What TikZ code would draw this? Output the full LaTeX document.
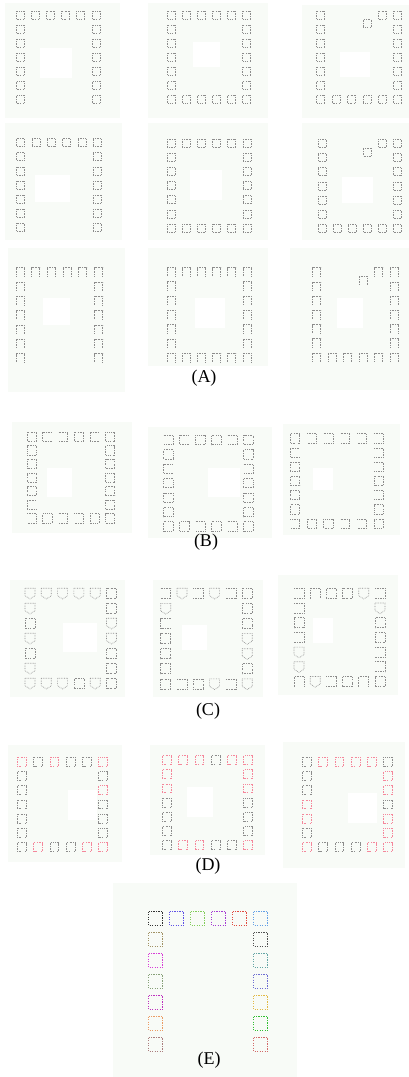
\documentclass[tikz,border=0pt]{standalone}
\usepackage{fontspec}
\setmainfont{Liberation Serif}

\definecolor{gr}{RGB}{140,140,140}
\definecolor{pk}{RGB}{245,135,155}
\definecolor{panelbg}{RGB}{248,251,247}
% colores del panel (E)
\definecolor{topblack}{RGB}{50,50,50}
\definecolor{topblue}{RGB}{95,80,230}
\definecolor{topgreen}{RGB}{130,205,90}
\definecolor{toppurple}{RGB}{165,60,210}
\definecolor{topred}{RGB}{225,75,65}
\definecolor{topsky}{RGB}{100,160,230}
\definecolor{leftolive}{RGB}{160,145,100}
\definecolor{leftmagenta}{RGB}{215,60,215}
\definecolor{leftsage}{RGB}{135,160,120}
\definecolor{leftviolet}{RGB}{190,50,190}
\definecolor{leftorange}{RGB}{235,155,100}
\definecolor{leftrose}{RGB}{170,125,125}
\definecolor{rightgray}{RGB}{80,80,80}
\definecolor{rightteal}{RGB}{100,165,165}
\definecolor{rightslate}{RGB}{110,110,210}
\definecolor{rightgold}{RGB}{225,185,70}
\definecolor{rightgreen}{RGB}{50,190,50}
\definecolor{rightpink}{RGB}{210,105,105}

\tikzset{
  glyph/.style={densely dotted, line width=0.65pt},
  gl/.pic={\draw[glyph] (-2.6,-4) -- (-4,-4) -- (-4,4) -- (0,4);
           \draw[glyph] (-0.8,-4) -- (4,-4) -- (4,4) -- (2.2,4);},
  sq/.pic={\draw[glyph] (-4,-4) rectangle (4,4);},
  cp/.pic={\draw[glyph] (-4,4.5) -- (-4,-4) -- (4,-4) -- (4,4.5);},
  br/.pic={\draw[glyph] (-4,-4) -- (4,-4) -- (4,4) -- (-4,4);},
  sh/.pic={\draw[glyph] (-4,-4) -- (4,-4) -- (4,2) -- (0,4.5) -- (-4,2) -- cycle;},
  none/.pic={}
}

% marco de celdas: #1,#2 primera celda, #3,#4 pasos, #5 tipo, #6 variante
\newcommand{\apanel}[6]{%
  \ifnum#6=2 \def\toplist{0,4,5}\else\def\toplist{0,1,2,3,4,5}\fi
  \ifnum#6=0 \def\botlist{0,5}\else\def\botlist{0,1,2,3,4,5}\fi
  \foreach \i in \toplist {\pic at ({#1+\i*#3},{#2}) {#5};}
  \foreach \j in {1,...,5} {\pic at ({#1},{#2+\j*#4}) {#5};
    \pic at ({#1+5*#3},{#2+\j*#4}) {#5};}
  \foreach \i in \botlist {\pic at ({#1+\i*#3},{#2+6*#4}) {#5};}
  \ifnum#6=2 \pic at ({#1+3*#3},{#2+0.6*#4}) {#5};\fi
}

% anillo con tipo/angulo/color por celda: #5 escala, #6 lista
\newcommand{\ringpanel}[6]{%
  \foreach \t/\a/\col [count=\k from 0] in {#6} {
    \pgfmathsetmacro\cc{{0,1,2,3,4,5,0,5,0,5,0,5,0,5,0,5,0,1,2,3,4,5}[\k]}
    \pgfmathsetmacro\rr{{0,0,0,0,0,0,1,1,2,2,3,3,4,4,5,5,6,6,6,6,6,6}[\k]}
    \pic[rotate=\a, scale=#5, color=\col] at ({#1+\cc*#3},{#2+\rr*#4}) {\t};
  }%
}

\begin{document}
\begin{tikzpicture}[x=1pt, y=-1pt, lab/.style={font=\fontsize{18}{20}\selectfont, inner sep=0pt}]
  \useasboundingbox (0,0) rectangle (409,1077);
  \fill[white] (0,0) rectangle (409,1077);

  % Fondos de los paneles
  \foreach \xa/\ya/\xb/\yb in {5/3/120/118, 148/3/268/118, 302/5/409/118,
      5/123/122/240, 148/123/268/240, 302/123/409/240,
      8/248/125/392, 148/248/268/366, 290/248/409/390,
      12/422/132/533, 148/427/272/538, 283/424/400/535,
      10/580/125/697, 153/580/263/697, 278/575/398/695,
      8/745/122/862, 150/745/265/855, 283/742/405/868,
      113/883/297/1077}
    \fill[panelbg] (\xa,\ya) rectangle (\xb,\yb);

  % Huecos blancos del centro
  \foreach \xa/\ya/\xb/\yb in {40/48/72/78, 193/42/220/67, 340/52/370/77,
      35/175/70/202, 190/170/222/200, 342/177/373/203,
      43/298/70/325, 195/298/225/328, 337/298/363/328,
      47/468/72/497, 208/468/240/497, 313/468/333/490,
      63/623/97/652, 182/625/207/650, 313/618/333/643,
      68/790/97/820, 187/787/213/817, 348/793/377/823}
    \fill[white] (\xa,\ya) rectangle (\xb,\yb);

  % (A): tres familias de glifos
  \begin{scope}[color=gr]
    \apanel{20}{15}{15.2}{14.05}{gl}{0}
    \apanel{171.7}{15}{15}{14.05}{gl}{1}
    \apanel{320.7}{15}{15.4}{14.05}{gl}{2}
    \apanel{20.7}{142.7}{15.3}{14.1}{sq}{0}
    \apanel{171}{143}{15.2}{14.2}{sq}{1}
    \apanel{322.3}{143.3}{15}{14.2}{sq}{2}
    \apanel{20}{271.7}{15.7}{14.3}{cp}{0}
    \apanel{171}{271.5}{15.2}{14.3}{cp}{1}
    \apanel{316.7}{271.7}{15.5}{14.2}{cp}{2}
  \end{scope}
  \node[lab] (labA) at (204,378) {(A)};

  % (B)
  \ringpanel{31.7}{436.7}{15.7}{13.6}{1.15}{gl/0/gr, br/180/gr, br/0/gr, gl/0/gr, br/180/gr, gl/0/gr,
    gl/90/gr, gl/0/gr, gl/0/gr, gl/90/gr, gl/270/gr, gl/0/gr, gl/90/gr, gl/270/gr, br/180/gr, gl/90/gr,
    br/0/gr, gl/180/gr, br/0/gr, br/0/gr, gl/180/gr, gl/90/gr}
  \ringpanel{168.3}{440}{16}{14.4}{1.15}{br/0/gr, br/180/gr, gl/0/gr, gl/180/gr, br/0/gr, gl/90/gr,
    gl/270/gr, gl/0/gr, br/180/gr, br/0/gr, gl/270/gr, gl/270/gr, gl/90/gr, gl/90/gr, gl/180/gr, gl/180/gr,
    gl/180/gr, gl/0/gr, br/0/gr, gl/180/gr, br/0/gr, gl/180/gr}
  \ringpanel{295}{438.3}{16.7}{14.2}{1.15}{gl/0/gr, br/0/gr, br/0/gr, br/0/gr, br/0/gr, br/0/gr,
    br/180/gr, br/0/gr, gl/90/gr, br/0/gr, gl/270/gr, gl/0/gr, gl/90/gr, br/0/gr, gl/180/gr, gl/90/gr,
    br/0/gr, gl/0/gr, gl/0/gr, br/0/gr, br/0/gr, gl/180/gr}
  \node[lab] (labB) at (206,542) {(B)};

  % (C)
  \ringpanel{30}{593.3}{16.3}{15}{1.25}{sh/0/gr, sh/0/gr, sh/0/gr, sh/0/gr, sh/0/gr, gl/0/gr,
    sh/0/gr, gl/0/gr, gl/0/gr, sh/0/gr, sh/0/gr, sh/0/gr, gl/0/gr, gl/90/gr, sh/0/gr, gl/0/gr,
    sh/0/gr, sh/0/gr, sh/0/gr, gl/90/gr, sh/0/gr, gl/0/gr}
  \ringpanel{165.7}{593.3}{16.3}{15.1}{1.25}{br/0/gr, sh/0/gr, br/0/gr, sh/0/gr, br/0/gr, gl/0/gr,
    sh/0/gr, gl/0/gr, br/180/gr, gl/90/gr, gl/0/gr, sh/0/gr, gl/90/gr, sh/0/gr, gl/0/gr, gl/90/gr,
    gl/0/gr, br/0/gr, gl/90/gr, sh/0/gr, br/0/gr, sh/0/gr}
  \ringpanel{299}{593.3}{16.2}{14.7}{1.25}{br/0/gr, cp/0/gr, gl/90/gr, gl/0/gr, sh/0/gr, br/0/gr,
    br/0/gr, sh/0/gr, gl/0/gr, gl/90/gr, br/0/gr, gl/0/gr, sh/0/gr, br/0/gr, sh/0/gr, br/0/gr,
    cp/0/gr, sh/0/gr, br/0/gr, gl/90/gr, cp/0/gr, gl/0/gr}
  \node[lab] (labC) at (208,711) {(C)};

  % (D): mismos glifos, gris y rosa
  \ringpanel{21.7}{761.7}{16.3}{14.2}{1.1}{gl/0/pk, gl/0/gr, gl/0/pk, gl/0/gr, gl/0/gr, gl/0/pk,
    gl/0/gr, gl/0/gr, gl/0/gr, gl/0/pk, gl/0/gr, gl/0/gr, gl/0/gr, gl/0/gr, gl/0/gr, gl/0/gr,
    gl/0/gr, gl/0/pk, gl/0/gr, gl/0/gr, gl/0/pk, gl/0/pk}
  \ringpanel{166.7}{760}{16.3}{14.2}{1.1}{gl/0/pk, gl/0/pk, gl/0/pk, gl/0/gr, gl/0/pk, gl/0/pk,
    gl/0/pk, gl/0/pk, gl/0/pk, gl/0/pk, gl/0/gr, gl/0/gr, gl/0/gr, gl/0/gr, gl/0/gr, gl/0/gr,
    gl/0/gr, gl/0/pk, gl/0/pk, gl/0/gr, gl/0/gr, gl/0/pk}
  \ringpanel{306.7}{761.7}{16.3}{14.2}{1.1}{gl/0/gr, gl/0/pk, gl/0/pk, gl/0/pk, gl/0/pk, gl/0/gr,
    gl/0/gr, gl/0/pk, gl/0/gr, gl/0/pk, gl/0/pk, gl/0/gr, gl/0/pk, gl/0/pk, gl/0/gr, gl/0/pk,
    gl/0/pk, gl/0/gr, gl/0/gr, gl/0/gr, gl/0/pk, gl/0/pk}
  \node[lab] (labD) at (208,866) {(D)};

  % (E): cuadrados de colores
  \begin{scope}[glyph/.append style={line width=1.3pt, dash pattern=on 1.4pt off 1.1pt}]
  \ringpanel{155.5}{918.5}{21}{21}{1.75}{sq/0/topblack, sq/0/topblue, sq/0/topgreen, sq/0/toppurple, sq/0/topred, sq/0/topsky,
    sq/0/leftolive, sq/0/rightgray, sq/0/leftmagenta, sq/0/rightteal, sq/0/leftsage, sq/0/rightslate,
    sq/0/leftviolet, sq/0/rightgold, sq/0/leftorange, sq/0/rightgreen,
    sq/0/leftrose, none/0/gr, none/0/gr, none/0/gr, none/0/gr, sq/0/rightpink}
  \end{scope}
  \node[lab] (labE) at (209,1060) {(E)};
\end{tikzpicture}
\end{document}
